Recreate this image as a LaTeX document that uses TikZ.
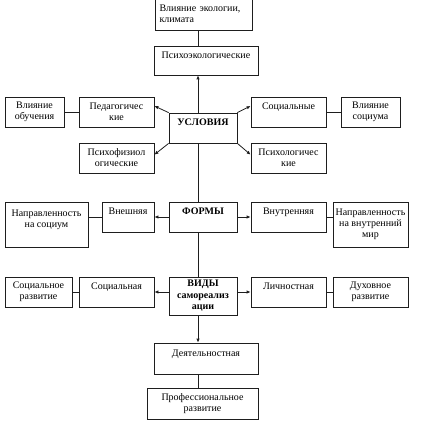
\documentclass[tikz,border=0pt]{standalone}
\usepackage{fontspec}
\setmainfont{Liberation Serif}
\usepackage{xcolor}
\usepackage{tikz}
\usetikzlibrary{positioning, arrows.meta}
\definecolor{linegray}{HTML}{1E1E1E}

\begin{document}
\begin{tikzpicture}[x=1pt, y=-1pt,
    box/.style={draw=linegray, line width=0.8pt, inner sep=1pt, align=center,
      font=\fontsize{10}{11}\selectfont},
    head/.style={box, font=\fontsize{10}{11.5}\selectfont\bfseries},
    link/.style={draw=linegray, line width=0.8pt},
    arr/.style={link, -{Latex[length=4pt, width=3.5pt]}}]
  \useasboundingbox (0,0) rectangle (420,422);
  \coordinate (spine) at (198,0);

  \node[box, align=left, text width=88pt, inner xsep=4.5pt, minimum height=32pt] (eco) at (203.5,14) {Влияние экологии,\\климата};
  \node[box, minimum width=104pt, minimum height=29pt] (psyeco) at (206,60.5) {Психоэкологические\\\mbox{}};

  \node[head, minimum width=68pt, minimum height=30pt] (usl) at (203,128) {УСЛОВИЯ\\\mbox{}};
  \node[box, minimum width=75pt, minimum height=30pt] (ped) at (116.5,112) {Педагогичес\\кие};
  \node[box, minimum width=59pt, minimum height=30pt] (vlobuch) at (34.5,112) {Влияние\\обучения};
  \node[box, minimum width=75pt, minimum height=30pt] (soc) at (288.5,112) {Социальные\\\mbox{}};
  \node[box, minimum width=59pt, minimum height=30pt] (vlsoc) at (370.5,112) {Влияние\\социума};
  \node[box, minimum width=75pt, minimum height=30pt] (psyfiz) at (116.5,158) {Психофизиол\\огические};
  \node[box, minimum width=75pt, minimum height=30pt] (psylog) at (288.5,158) {Психологичес\\кие};

  \node[head, minimum width=68pt, minimum height=30pt] (formy) at (203,217) {ФОРМЫ\\\mbox{}};
  \node[box, minimum width=52pt, minimum height=30pt] (vnesh) at (128,217) {Внешняя\\\mbox{}};
  \node[box, minimum width=83pt, minimum height=45pt] (napsoc) at (46.5,224.5) {Направленность\\на социум\\\mbox{}};
  \node[box, minimum width=75pt, minimum height=30pt] (vnutr) at (288.5,217) {Внутренняя\\\mbox{}};
  \node[box, minimum width=75pt, minimum height=45pt] (napmir) at (370.5,224.5) {Направленность\\на внутренний\\мир};

  \node[head, minimum width=68pt, minimum height=38pt] (vidy) at (203,296) {ВИДЫ\\самореализ\\ации};
  \node[box, minimum width=75pt, minimum height=30pt] (socal) at (116.5,292) {Социальная\\\mbox{}};
  \node[box, minimum width=67pt, minimum height=30pt] (socrazv) at (38.5,292) {Социальное\\развитие};
  \node[box, minimum width=75pt, minimum height=30pt] (lichn) at (288.5,292) {Личностная\\\mbox{}};
  \node[box, minimum width=75pt, minimum height=30pt] (duh) at (370.5,292) {Духовное\\развитие};

  \node[box, minimum width=104pt, minimum height=31pt] (deyat) at (206,358.5) {Деятельностная\\\mbox{}};
  \node[box, minimum width=111pt, minimum height=31pt] (prof) at (202.5,403.5) {Профессиональное\\развитие};

  \draw[link] (eco.south -| spine) -- (psyeco.north -| spine);
  \draw[arr] (usl.north -| spine) -- (psyeco.south -| spine);
  \draw[arr] (usl.north west) -- (ped.9);
  \draw[arr] (usl.south west) -- (psyfiz.5);
  \draw[arr] (usl.north east) -- (soc.171);
  \draw[arr] (usl.south east) -- (psylog.175);
  \draw[link] (ped.west) -- (vlobuch.east);
  \draw[link] (soc.east) -- (vlsoc.west);

  \draw[link] (usl.south -| spine) -- (formy.north -| spine);
  \draw[arr] (formy.west) -- (vnesh.east);
  \draw[arr] (formy.east) -- (vnutr.west);
  \draw[link] (vnesh.west) -- (vnesh.west -| napsoc.east);
  \draw[link] (vnutr.east) -- (vnutr.east -| napmir.west);

  \draw[link] (formy.south -| spine) -- (vidy.north -| spine);
  \draw[arr] (socal.east -| vidy.west) -- (socal.east);
  \draw[arr] (lichn.west -| vidy.east) -- (lichn.west);
  \draw[link] (socal.west) -- (socrazv.east);
  \draw[link] (lichn.east) -- (duh.west);

  \draw[arr] (vidy.south -| spine) -- (deyat.north -| spine);
  \draw[link] (deyat.south -| spine) -- (prof.north -| spine);
\end{tikzpicture}
\end{document}
